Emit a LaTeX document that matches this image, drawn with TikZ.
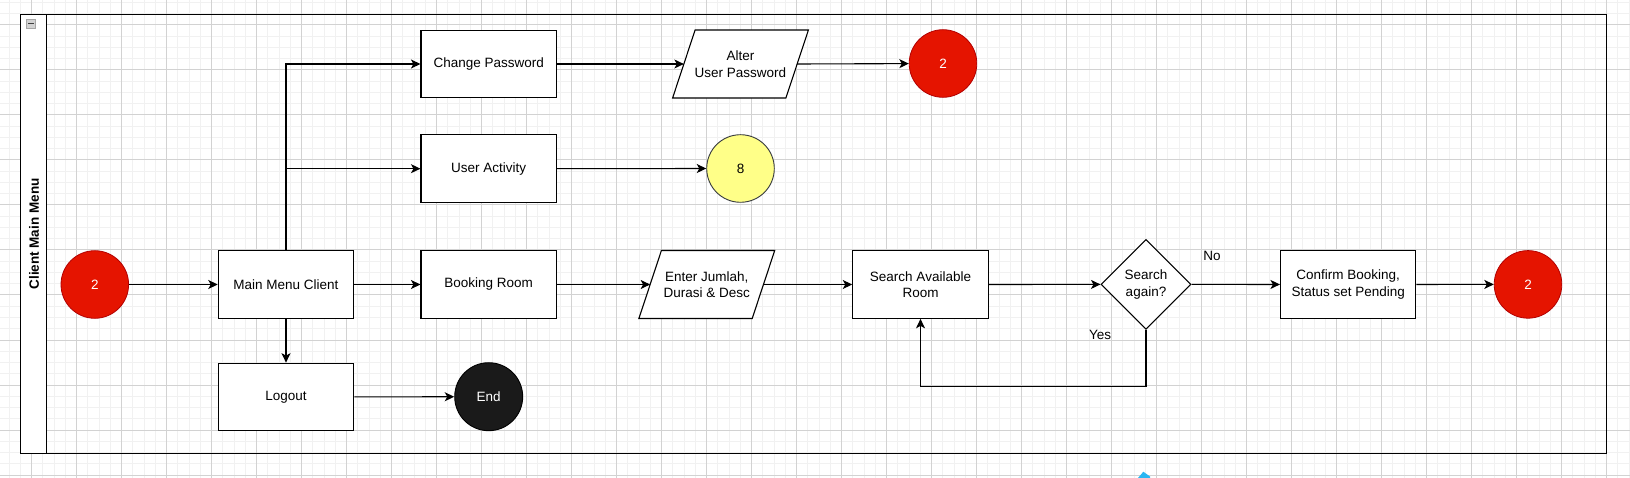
\documentclass[tikz,border=0pt]{standalone}
\usepackage{fontspec}
\setmainfont{Liberation Sans}
\usetikzlibrary{arrows.meta,calc}
\definecolor{drred}{HTML}{E51400}
\definecolor{drredline}{HTML}{B20000}
\definecolor{dryellow}{HTML}{FFFF88}
\definecolor{dryline}{HTML}{36393D}
\definecolor{drblack}{HTML}{1A1A1A}
\definecolor{gmajor}{HTML}{D2D2D2}
\definecolor{gminor}{HTML}{F1F1F1}
\definecolor{cursorblue}{HTML}{29B6F2}
\tikzset{
  txt/.style={font=\fontsize{13.5}{16.5}\selectfont, align=center, inner sep=0pt},
  procbox/.style={txt, draw=black, line width=1.1pt, fill=white, minimum width=135.4pt, minimum height=67.6pt},
  iobox/.style={txt, minimum width=112.9pt, minimum height=67.6pt},
  redcirc/.style={txt, circle, draw=drredline, line width=0.8pt, fill=drred, text=white, minimum size=67.6pt},
  yelcirc/.style={txt, circle, draw=dryline, line width=0.9pt, fill=dryellow, minimum size=67.6pt},
  blkcirc/.style={txt, circle, draw=black, line width=0.9pt, fill=drblack, text=white, minimum size=68pt},
  decision/.style={txt, draw=black, line width=1.1pt, fill=white, diamond, minimum width=90pt, minimum height=90pt},
  arr/.style={line width=1.1pt, -{Stealth[length=9.5pt,width=9pt,inset=2.5pt]}},
  lbl/.style={font=\fontsize{13.5}{16.5}\selectfont, inner sep=0pt, anchor=base}
}
\usetikzlibrary{shapes.geometric}
\begin{document}
\begin{tikzpicture}[x=1pt,y=-1pt]
\useasboundingbox (0,0) rectangle (1630,478);
\fill[white] (0,0) rectangle (1630,478);
% grid
\foreach \k in {0,...,144} { \draw[gminor,line width=1pt] ({9.2+11.25*\k},0) -- ({9.2+11.25*\k},478); }
\foreach \k in {0,...,42} { \draw[gminor,line width=1pt] (0,{2.5+11.25*\k}) -- (1630,{2.5+11.25*\k}); }
\foreach \k in {0,...,35} { \draw[gmajor,line width=1pt] ({31.7+45*\k},0) -- ({31.7+45*\k},478); }
\foreach \k in {0,...,10} { \draw[gmajor,line width=1pt] (0,{25+45*\k}) -- (1630,{25+45*\k}); }
% swimlane
\draw[fill=white, line width=1.1pt] (20.7,14.7) rectangle (46.7,453.3);
\draw[line width=1.1pt] (20.7,14.7) rectangle (1606.8,453.3);
\node[font=\fontsize{13.5}{16.5}\selectfont\bfseries, rotate=90, inner sep=0pt] (lane) at (34,234) {Client Main Menu};
\draw[gray!70, fill=gray!35] (26.5,19.5) rectangle (35,28);
\draw[black!75, line width=1.2pt] (28,23.75) -- (33.5,23.75);
% nodes
\node[redcirc] (start) at (94.8,284.5) {2};
\node[procbox] (main) at (286,284.5) {Main Menu Client};
\node[procbox] (book) at (488.7,284.5) {Booking Room};
\node[iobox] (enter) at (706.8,284.5) {Enter Jumlah,\\Durasi \& Desc};
\node[procbox] (search) at (920.5,284.5) {Search Available\\Room};
\node[decision] (dia) at (1146,284.4) {Search\\again?};
\node[procbox] (confirm) at (1348.2,284.5) {Confirm Booking,\\Status set Pending};
\node[redcirc] (end2) at (1528,284.4) {2};
\node[procbox] (cp) at (488.7,64) {Change Password};
\node[iobox] (alter) at (740.5,64) {Alter\\User Password};
\node[redcirc] (cpend) at (943,63.5) {2};
\node[procbox] (ua) at (488.7,168.7) {User Activity};
\node[yelcirc] (eight) at (740.5,168.5) {8};
\node[procbox] (logout) at (286,397) {Logout};
\node[blkcirc] (endn) at (488.7,396.7) {End};
% parallelograms
\foreach \p in {enter,alter} {
  \draw[line width=1.1pt, fill=white]
    ($(\p.north west)+(11.25,0)$) -- ($(\p.north east)+(11.25,0)$) --
    ($(\p.south east)-(11.25,0)$) -- ($(\p.south west)-(11.25,0)$) -- cycle;
}
\node[txt] at (enter) {Enter Jumlah,\\Durasi \& Desc};
\node[txt] at (alter) {Alter\\User Password};
% connectors
\draw[arr] (start) -- (main);
\draw[arr] (main) -- (book);
\draw[arr] (book) -- (enter.west);
\draw[arr] (enter.east) -- (search);
\draw[arr] (search) -- (dia);
\draw[arr] (dia) -- (confirm);
\draw[arr] (confirm) -- (end2);
\draw[arr] (main.north) |- (cp.west);
\draw[arr] (main.north) |- (ua.west);
\draw[arr] (cp) -- (alter.west);
\draw[arr] (alter.east) -- (cpend);
\draw[arr] (ua) -- (eight);
\draw[arr] (main) -- (logout);
\draw[arr] (logout) -- (endn);
\draw[arr] (dia.south) -- ++(0,56.4) -| (search.south);
\node[lbl] (no) at (1212,261) {No};
\node[lbl] (yes) at (1100,339.5) {Yes};
% cursor artifact
\fill[cursorblue] (1138,478) -- (1143.3,471.7) -- (1150,476.5) -- (1150,478) -- cycle;
\end{tikzpicture}
\end{document}
